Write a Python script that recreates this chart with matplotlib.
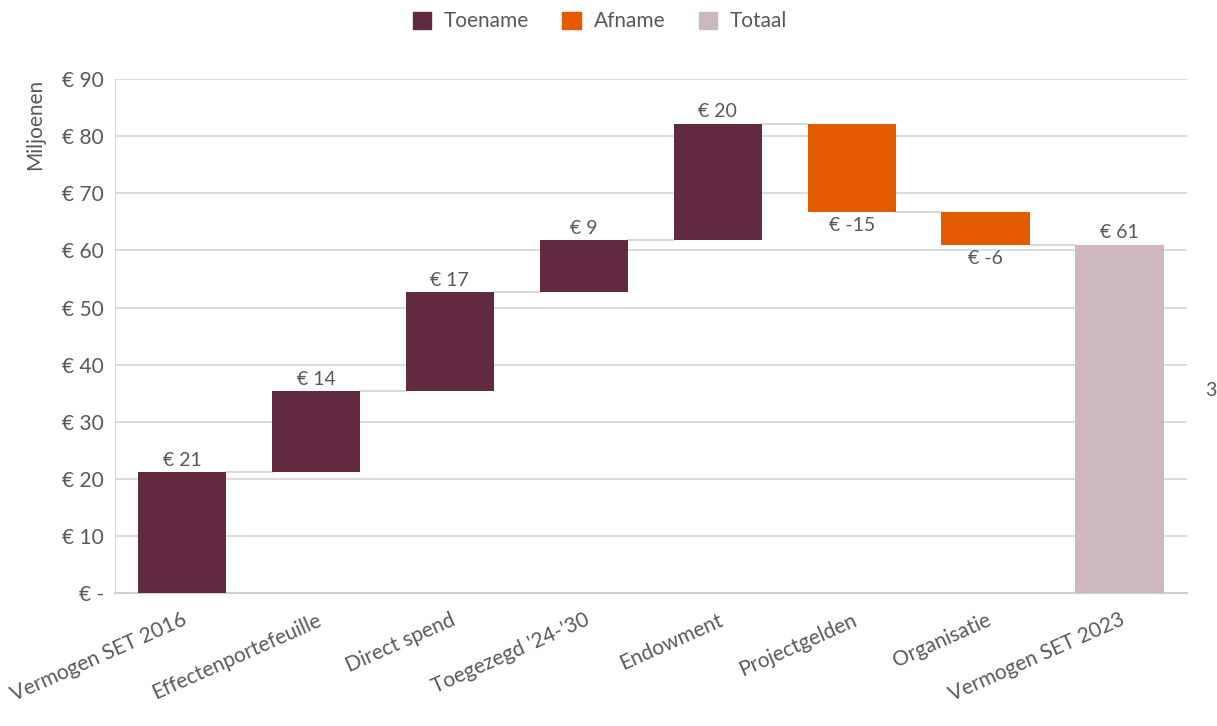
import matplotlib.pyplot as plt
import numpy as np

plt.rcParams['font.family'] = ['Lato', 'DejaVu Sans']

categorieen = ['Vermogen SET 2016', 'Effectenportefeuille', 'Direct spend', "Toegezegd '24-'30",
               'Endowment', 'Projectgelden', 'Organisatie', 'Vermogen SET 2023']
waarden = [21.2, 14.2, 17.3, 9.1, 20.4, -15.4, -5.8, 61.0]
soort = ['Totaal0', 'Toename', 'Toename', 'Toename', 'Toename', 'Afname', 'Afname', 'Totaal']
labels = ['€ 21', '€ 14', '€ 17', '€ 9', '€ 20', '€ -15', '€ -6', '€ 61']
yticks = [0, 10, 20, 30, 40, 50, 60, 70, 80, 90]
ytick_labels = ['€ -', '€ 10', '€ 20', '€ 30', '€ 40', '€ 50', '€ 60', '€ 70', '€ 80', '€ 90']

kleur_toe = '#622a40'
kleur_af = '#e35a00'
kleur_tot = '#cdb9bd'
grijs = '#595959'

fig = plt.figure(figsize=(12.17, 7.26), dpi=100)
ax = fig.add_axes([0.0945, 0.183, 0.8805, 0.708])

x = np.arange(len(categorieen))
breedte = 0.66
cum = 0
bodems = []
hoogtes = []
kleuren = []
for i, (w, s) in enumerate(zip(waarden, soort)):
    if s == 'Totaal':
        bodems.append(0)
        hoogtes.append(w)
        kleuren.append(kleur_tot)
        cum = w
    elif s == 'Totaal0':
        bodems.append(0)
        hoogtes.append(w)
        kleuren.append(kleur_toe)
        cum = w
    else:
        bodems.append(cum if w > 0 else cum + w)
        hoogtes.append(abs(w))
        kleuren.append(kleur_toe if w > 0 else kleur_af)
        cum = cum + w

ax.bar(x, hoogtes, bottom=bodems, width=breedte, color=kleuren, zorder=3)

# verbindingslijnen
for i in range(len(waarden) - 1):
    top = bodems[i] + hoogtes[i]
    niveau = top if (waarden[i] > 0) else bodems[i]
    ax.plot([x[i] + breedte / 2, x[i + 1] - breedte / 2], [niveau, niveau],
            color='#d9d9d9', lw=1.5, zorder=2)

# labels
for i in range(len(waarden)):
    if waarden[i] >= 0:
        ax.text(x[i], bodems[i] + hoogtes[i] + 0.6, labels[i], ha='center', va='bottom',
                fontsize=14, color=grijs)
    else:
        ax.text(x[i], bodems[i] - 1.0, labels[i], ha='center', va='top',
                fontsize=14, color=grijs)

ax.set_xlim(-0.5, len(categorieen) - 0.5)
ax.set_ylim(0, 90)
ax.set_yticks(yticks)
ax.set_yticklabels(ytick_labels, fontsize=15, color=grijs)
ax.set_xticks(x)
ax.set_xticklabels(categorieen, rotation=24, ha='right', rotation_mode='anchor',
                   fontsize=15, color=grijs)
ax.tick_params(axis='both', length=0, pad=8)
ax.tick_params(axis='x', pad=12)
ax.grid(axis='y', color='#d9d9d9', lw=1.3, zorder=0)
ax.set_axisbelow(True)
for s in ['top', 'right']:
    ax.spines[s].set_visible(False)
ax.spines['left'].set_color('#d9d9d9')
ax.spines['bottom'].set_color('#d0d0d0')
ax.spines['bottom'].set_linewidth(1.5)
ax.set_ylabel('Miljoenen', fontsize=15, color=grijs, loc='top', labelpad=12)

handles = [plt.Rectangle((0, 0), 1, 1, color=c) for c in [kleur_toe, kleur_af, kleur_tot]]
fig.legend(handles, ['Toename', 'Afname', 'Totaal'], loc='upper center',
           bbox_to_anchor=(0.493, 1.01), ncol=3, frameon=False, fontsize=15,
           labelcolor=grijs, handlelength=0.9, handleheight=0.9, columnspacing=1.6,
           handletextpad=0.6)

fig.text(0.99, 0.455, '3', fontsize=14, color=grijs)

fig.savefig('out.png', dpi=100)
